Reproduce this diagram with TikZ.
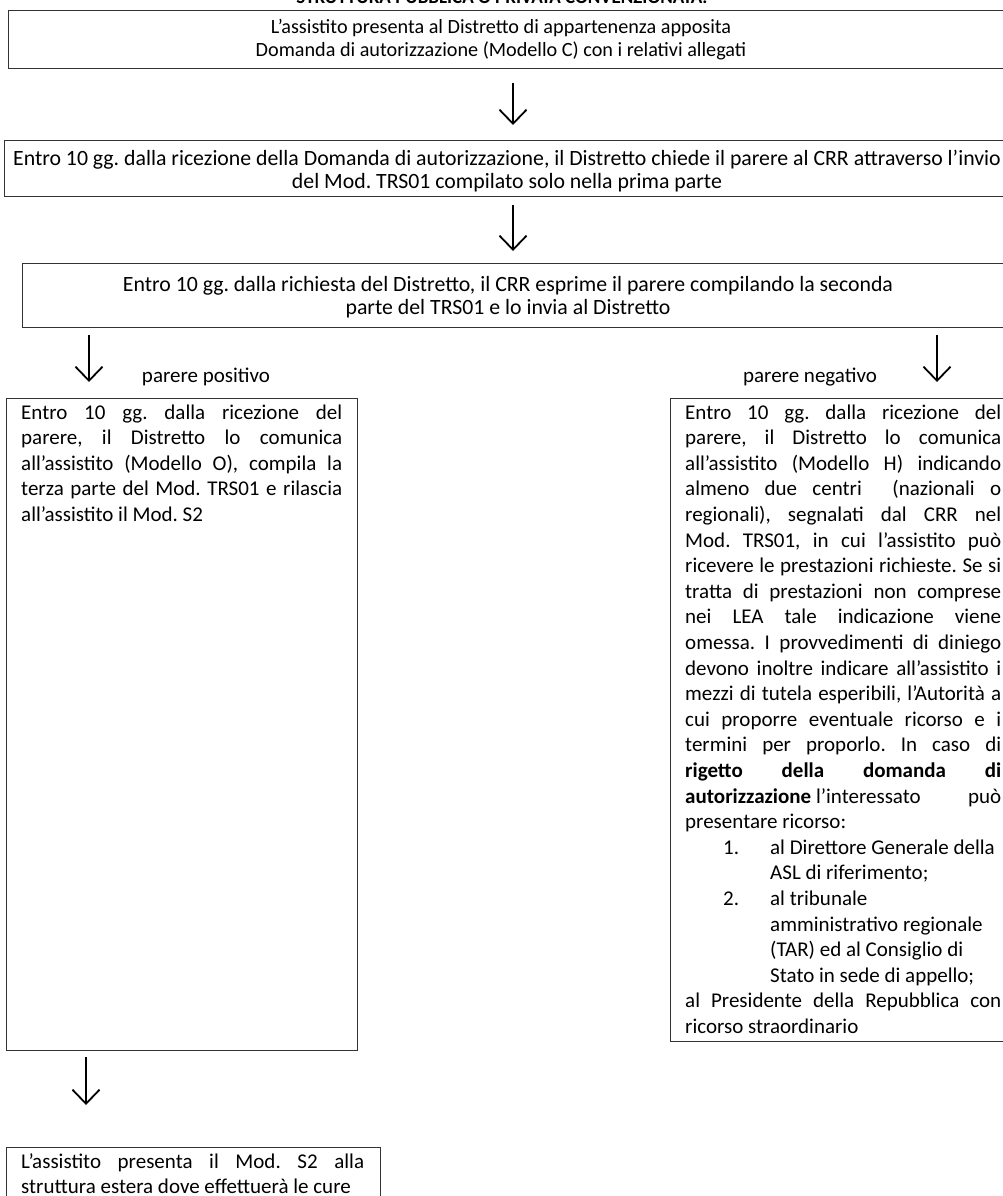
\documentclass[tikz,border=0pt]{standalone}
\usepackage{fontspec}
\setmainfont{Carlito}
\usetikzlibrary{arrows.meta}
\newlength\jw
\newcommand\NS{\spaceskip=0pt\xspaceskip=0pt\relax}
\newcommand\JL[1]{\leavevmode\hbox to \jw{#1}}
\newcommand\LI[2]{\leavevmode\hbox to \jw{\hspace*{38pt}\makebox[47pt][l]{#1}#2\hss}}
\newcommand\LC[1]{\leavevmode\hbox to \jw{\hspace*{85pt}#1\hss}}
\newcommand\TT[2]{\begin{tabular}[t]{@{}c@{}}#1\\#2\end{tabular}}
\begin{document}
\frenchspacing
\begin{tikzpicture}[x=1pt,y=-1pt,
  frame/.style={draw=black!80, line width=1.3pt, inner sep=0pt, anchor=north west},
  flowarrow/.style={line width=1.8pt, -{Straight Barb[length=14pt,width=27pt,line width=1.8pt]}},
  toptext/.style={inner sep=0pt, anchor=base, font=\fontsize{21.8}{23}\selectfont\frenchspacing},
  bodytext/.style={inner sep=0pt, anchor=base west, align=left, font=\fontsize{21}{25.6}\selectfont\frenchspacing},
  lbl/.style={inner sep=0pt, anchor=base, font=\fontsize{21}{25}\selectfont}]
\useasboundingbox (0,0) rectangle (1003,1196);
\clip (0,0) rectangle (1003,1196);
% title (cut off at top)
\node[inner sep=0pt, anchor=base, font=\fontsize{19}{22}\bfseries] (title) at (502,4) {STRUTTURA PUBBLICA O PRIVATA CONVENZIONATA.};
% boxes
\node[frame, minimum width=1020pt, minimum height=58pt] (b1) at (8,10) {};
\node[frame, minimum width=1020pt, minimum height=56pt] (b2) at (4,140) {};
\node[frame, minimum width=1020pt, minimum height=64pt] (b3) at (22,263) {};
\node[frame, minimum width=351pt, minimum height=652pt] (bl) at (6,398) {};
\node[frame, minimum width=360pt, minimum height=643pt] (br) at (670,398) {};
\node[frame, minimum width=374pt, minimum height=80pt] (bb) at (6,1147) {};
% box texts
\node[toptext, font=\fontsize{20.2}{22.5}\selectfont] (t1) at (501,34) {\TT{L’assistito presenta al Distretto di appartenenza apposita}{Domanda di autorizzazione (Modello C) con i relativi allegati}};
\node[toptext] (t2) at (507,165) {\TT{Entro 10 gg. dalla ricezione della Domanda di autorizzazione, il Distretto chiede il parere al CRR attraverso l’invio}{del Mod. TRS01 compilato solo nella prima parte}};
\node[toptext] (t3) at (508,291) {\TT{Entro 10 gg. dalla richiesta del Distretto, il CRR esprime il parere compilando la seconda}{parte del TRS01 e lo invia al Distretto}};
\node[bodytext, text width=321pt] (tl) at (21,419) {\NS\setlength\jw{321pt}%
\JL{Entro 10 gg. dalla ricezione del}\\
\JL{parere, il Distretto lo comunica}\\
\JL{all’assistito (Modello O), compila la}\\
\JL{terza parte del Mod. TRS01 e rilascia}\\
all’assistito il Mod. S2};
\node[bodytext, text width=316pt] (tr) at (685,419) {\NS\setlength\jw{316pt}%
\JL{Entro 10 gg. dalla ricezione del}\\
\JL{parere, il Distretto lo comunica}\\
\JL{all’assistito (Modello H) indicando}\\
\JL{almeno due centri\ \ (nazionali o}\\
\JL{regionali), segnalati dal CRR nel}\\
\JL{Mod. TRS01, in cui l’assistito può}\\
\JL{ricevere le prestazioni richieste. Se si}\\
\JL{tratta di prestazioni non comprese}\\
\JL{nei LEA tale indicazione viene}\\
\JL{omessa. I provvedimenti di diniego}\\
\JL{devono inoltre indicare all’assistito i}\\
\JL{mezzi di tutela esperibili, l’Autorità a}\\
\JL{cui proporre eventuale ricorso e i}\\
\JL{termini per proporlo. In caso di}\\
\JL{\textbf{rigetto della domanda di}}\\
\JL{\textbf{autorizzazione} l’interessato\hfill può}\\
presentare ricorso:\\
\LI{1.}{al Direttore Generale della}\\
\LC{ASL di riferimento;}\\
\LI{2.}{al tribunale}\\
\LC{amministrativo regionale}\\
\LC{(TAR) ed al Consiglio di}\\
\LC{Stato in sede di appello;}\\
\JL{al Presidente della Repubblica con}\\
ricorso straordinario};
\node[bodytext, text width=343pt] (tb) at (21,1168) {\NS\setlength\jw{343pt}%
\JL{L’assistito presenta il Mod. S2 alla}\\
struttura estera dove effettuerà le cure};
% labels
\node[lbl] (lp) at (206,382) {parere positivo};
\node[lbl] (ln) at (810,382) {parere negativo};
% arrows
\coordinate (a1s) at (513,83);  \coordinate (a1e) at (513,125);
\coordinate (a2s) at (513,205); \coordinate (a2e) at (513,251);
\coordinate (a3s) at (89,335);  \coordinate (a3e) at (89,382);
\coordinate (a4s) at (937,335); \coordinate (a4e) at (937,382);
\coordinate (a5s) at (86,1057); \coordinate (a5e) at (86,1105);
\draw[flowarrow] (a1s) -- (a1e);
\draw[flowarrow] (a2s) -- (a2e);
\draw[flowarrow] (a3s) -- (a3e);
\draw[flowarrow] (a4s) -- (a4e);
\draw[flowarrow] (a5s) -- (a5e);
\end{tikzpicture}
\end{document}
